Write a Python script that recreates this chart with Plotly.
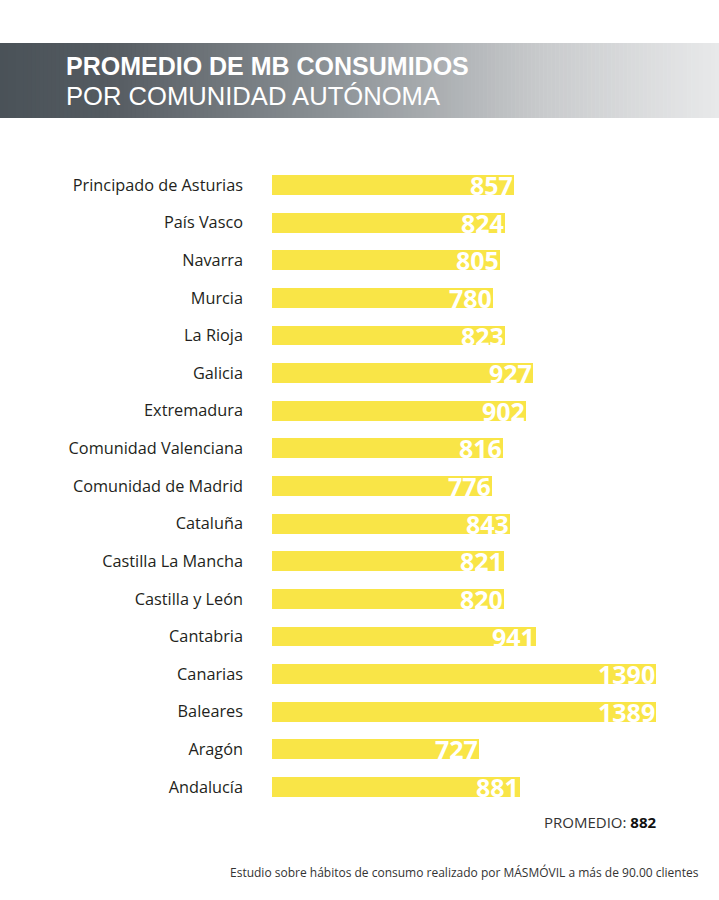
import plotly.graph_objects as go

regiones = ["Principado de Asturias", "País Vasco", "Navarra", "Murcia", "La Rioja",
            "Galicia", "Extremadura", "Comunidad Valenciana", "Comunidad de Madrid",
            "Cataluña", "Castilla La Mancha", "Castilla y León", "Cantabria",
            "Canarias", "Baleares", "Aragón", "Andalucía"]
mb_consumidos = [857, 824, 805, 780, 823, 927, 902, 816, 776, 843, 821, 820, 941,
                 1390, 1389, 727, 881]
promedio = 882

W, H = 719, 900
L, T, B = 272, 166, 94
pw, ph = W - L, H - T - B
BASE = -50  # bars start a little left of zero in the original artwork

def px(x):
    return (x - L) / pw

def py(y):
    return (H - B - y) / ph

fig = go.Figure(go.Bar(
    y=regiones, x=[v - BASE for v in mb_consumidos], base=BASE,
    orientation="h", width=0.53,
    marker=dict(color="#f9e547", line=dict(width=0)),
    hoverinfo="skip",
))

# header band with grey gradient
stops = [(0.0, (74, 82, 88)), (0.15, (84, 91, 97)), (0.5, (148, 153, 157)),
         (0.75, (200, 202, 204)), (1.0, (232, 233, 234))]
def col(t):
    for (t0, c0), (t1, c1) in zip(stops, stops[1:]):
        if t <= t1:
            f = (t - t0) / (t1 - t0)
            return "rgb(%d,%d,%d)" % tuple(round(a + (b - a) * f) for a, b in zip(c0, c1))
    return "rgb(232,233,234)"

shapes = []
n = 180
for i in range(n):
    x0 = W * i / n
    x1 = W * (i + 1) / n + 0.6
    shapes.append(dict(type="rect", xref="paper", yref="paper", layer="below",
                       x0=px(x0), x1=px(x1), y0=py(118), y1=py(43),
                       fillcolor=col((i + 0.5) / n), line=dict(width=0)))

annotations = [
    dict(x=v, y=r, xref="x", yref="y", text=str(v), showarrow=False,
         xanchor="right", yanchor="middle", xshift=1, yshift=0,
         font=dict(family="Open Sans", size=25, color="white", weight="bold"))
    for r, v in zip(regiones, mb_consumidos)
]
annotations += [
    dict(x=px(65), y=py(66.5), xref="paper", yref="paper", xanchor="left", yanchor="middle",
         showarrow=False, borderpad=0, text="<b>PROMEDIO DE MB CONSUMIDOS</b>",
         font=dict(family="Liberation Sans", size=25, color="white")),
    dict(x=px(65), y=py(96.5), xref="paper", yref="paper", xanchor="left", yanchor="middle",
         showarrow=False, borderpad=0, text="POR COMUNIDAD AUTÓNOMA",
         font=dict(family="Liberation Sans", size=25.6, color="white")),
    dict(x=px(659), y=py(822), xref="paper", yref="paper", xanchor="right", yanchor="middle",
         showarrow=False, text="PROMEDIO: <b style='color:#111'>%d</b>" % promedio,
         font=dict(family="Open Sans", size=15, color="#333333")),
    dict(x=px(701), y=py(872), xref="paper", yref="paper", xanchor="right", yanchor="middle",
         showarrow=False,
         text="Estudio sobre hábitos de consumo realizado por MÁSMÓVIL a más de 90.00 clientes",
         font=dict(family="Open Sans", size=12, color="#333333")),
]

fig.update_layout(
    width=W, height=H,
    margin=dict(l=L, r=0, t=T, b=B, pad=0),
    paper_bgcolor="white", plot_bgcolor="white",
    showlegend=False, bargap=0,
    shapes=shapes, annotations=annotations,
    font=dict(family="Open Sans", color="#231f20"),
)
fig.update_xaxes(range=[BASE, BASE + pw / 0.2667], visible=False, fixedrange=True)
fig.update_yaxes(autorange="reversed", showgrid=False, zeroline=False, showline=False,
                 ticks="", ticklabelstandoff=28, tickfont=dict(size=16.3, color="#231f20"),
                 fixedrange=True)

fig.write_html("out.html", config={"displayModeBar": False},
               post_script="document.body.style.margin='0';")
